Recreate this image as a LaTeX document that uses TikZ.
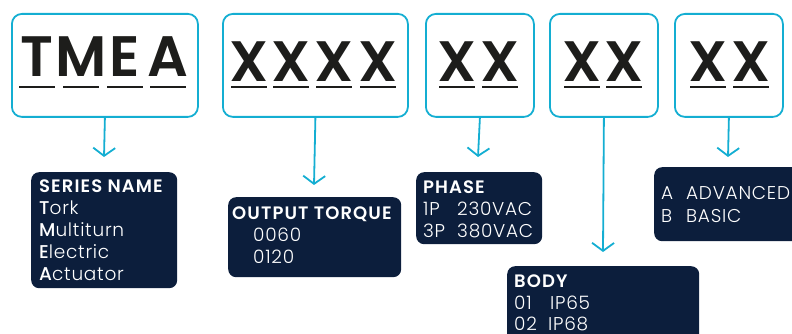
\documentclass[tikz,border=0pt]{standalone}
\usepackage{fontspec}
\setmainfont{Poppins}
\newfontfamily\lightfont[LetterSpace=4]{Poppins Light}
\newfontfamily\medfont{Poppins Medium}
\newfontfamily\bigfont{Poppins SemiBold}
\newfontfamily\headfont[LetterSpace=6]{Poppins SemiBold}
\usetikzlibrary{arrows.meta}

\definecolor{codeblue}{RGB}{20,174,210}
\definecolor{navy}{RGB}{12,30,60}
\definecolor{ink}{RGB}{29,29,27}

\tikzset{
  codebox/.style={draw=codeblue, line width=1.8pt, rounded corners=10pt, anchor=north west, inner sep=0pt},
  infobox/.style={fill=navy, rounded corners=8pt, anchor=north west, inner sep=0pt},
  letter/.style={anchor=base, inner sep=0pt, text=ink, font=\bigfont\fontsize{57}{57}\selectfont},
  head/.style={anchor=base west, inner sep=0pt, text=white, font=\headfont\fontsize{18}{19}\selectfont},
  entry/.style={anchor=base west, inner sep=0pt, text=white, font=\lightfont\fontsize{18.5}{19}\selectfont},
  pointer/.style={draw=codeblue, line width=1.8pt, -{Straight Barb[length=8pt, width=22pt, line width=1.8pt]}}
}

\begin{document}
\begin{tikzpicture}[x=1pt, y=-1pt]
    \useasboundingbox (0,0) rectangle (792,334);

    % Caselle del codice
    \node[codebox, minimum width=186, minimum height=103] (b1) at (11,13) {};
    \node[codebox, minimum width=185, minimum height=103] (b2) at (222,13) {};
    \node[codebox, minimum width=108, minimum height=103] (b3) at (425,13) {};
    \node[codebox, minimum width=108, minimum height=103] (b4) at (549,13) {};
    \node[codebox, minimum width=108, minimum height=103] (b5) at (674,13) {};

    % Lettere sottolineate
    \foreach \ch/\xx [count=\i] in {T/37, M/81, E/125, A/168}
    {
        \node[letter] (t\i) at (\xx,77) {\ch};
        \draw[ink, line width=1.5pt] (\xx-18,87) -- (\xx+18,87);
    }
    \foreach \xx [count=\i] in {249, 291, 334, 378, 457, 500, 582, 624, 708, 751}
    {
        \node[letter] (x\i) at (\xx,82) {X};
        \draw[ink, line width=1.5pt] (\xx-18,87) -- (\xx+18,87);
    }

    % Frecce
    \coordinate (e1) at (104,157);
    \coordinate (e2) at (314,185);
    \coordinate (e3) at (478,157);
    \coordinate (e4) at (603,252);
    \coordinate (e5) at (728,157);
    \draw[pointer] (b1.south) -- (e1);
    \draw[pointer] (b2.south) -- (e2);
    \draw[pointer] (b3.south) -- (e3);
    \draw[pointer] (b4.south) -- (e4);
    \draw[pointer] (b5.south) -- (e5);

    % Riquadri blu
    \node[infobox, minimum width=146, minimum height=116] (series) at (31,172) {};
    \node[infobox, minimum width=173, minimum height=80] (torque) at (228,197) {};
    \node[infobox, minimum width=126, minimum height=72] (phase) at (416,172) {};
    \node[infobox, minimum width=150, minimum height=74] (model) at (654,167) {};
    \node[infobox, minimum width=192, minimum height=90] (body) at (507,266) {};

    % Series name
    \node[head] (sn) at (39,192) {SERIES NAME};
    \foreach \b/\r [count=\i] in {T/ork, M/ultiturn, E/lectric, A/ctuator}
        \node[entry] (sn\i) at (39,192+22*\i) {{\medfont\b}\r};

    % Output torque
    \node[head] (ot) at (232,219) {OUTPUT TORQUE};
    \node[entry] (ot1) at (253,241) {0060};
    \node[entry] (ot2) at (253,263) {0120};

    % Phase
    \node[head] (ph) at (423,193) {PHASE};
    \node[entry] (ph1) at (423,215) {1P};
    \node[entry] (ph1v) at (457,215) {230VAC};
    \node[entry] (ph2) at (423,237) {3P};
    \node[entry] (ph2v) at (457,237) {380VAC};

    % Versione
    \node[entry] (md1) at (661,199) {A};
    \node[entry] (md1v) at (686,199) {ADVANCED};
    \node[entry] (md2) at (661,222) {B};
    \node[entry] (md2v) at (686,222) {BASIC};

    % Body
    \node[head] (bd) at (514,287) {BODY};
    \node[entry] (bd1) at (514,309) {01};
    \node[entry] (bd1v) at (550,309) {IP65};
    \node[entry] (bd2) at (514,330) {02};
    \node[entry] (bd2v) at (548,330) {IP68};

\end{tikzpicture}
\end{document}
